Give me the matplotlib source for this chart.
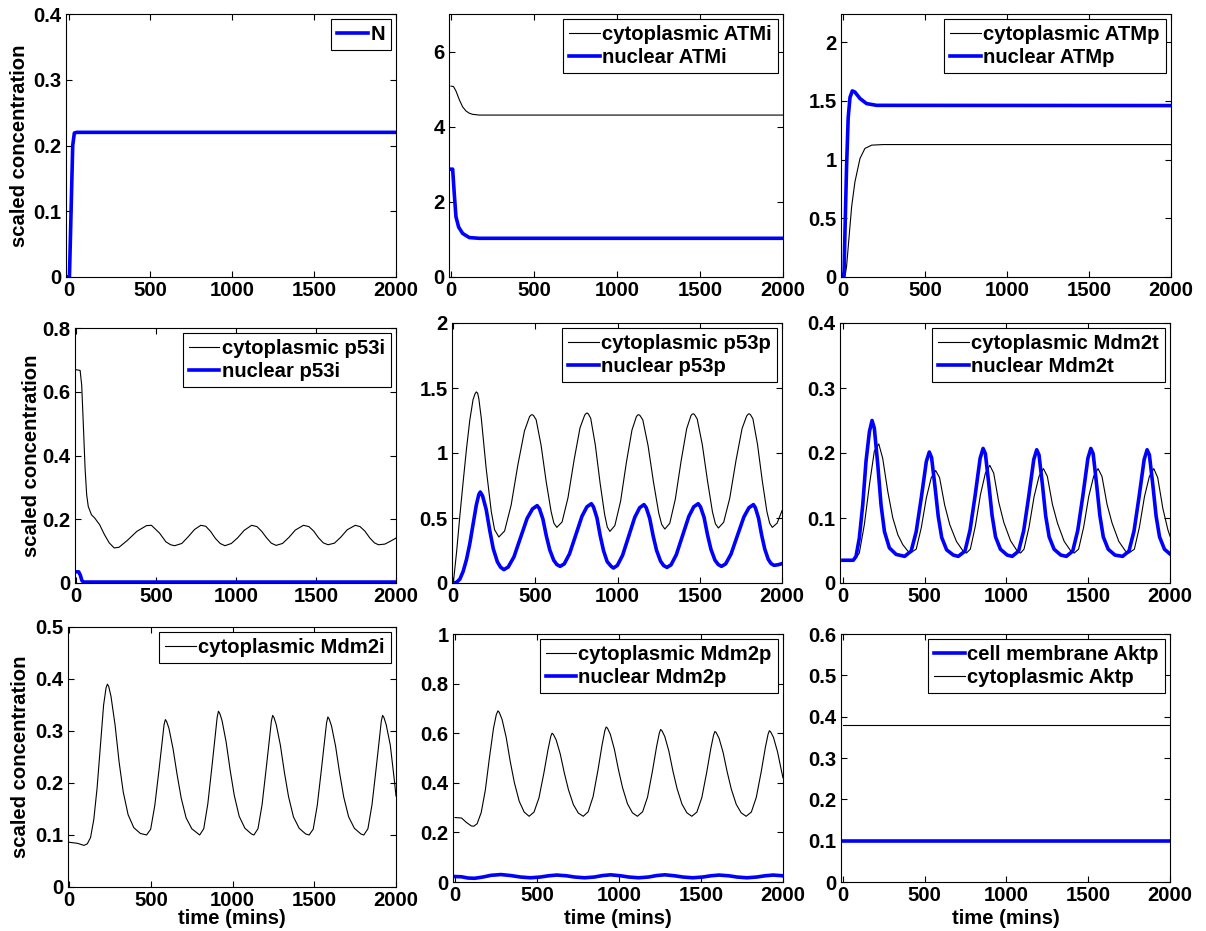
import numpy as np
import matplotlib
matplotlib.use("Agg")
import matplotlib.pyplot as plt
from matplotlib.ticker import FormatStrFormatter

plt.rcParams['font.family'] = ['Liberation Sans', 'DejaVu Sans']
plt.rcParams['font.weight'] = 'bold'
plt.rcParams['axes.labelweight'] = 'bold'

# ---- data (time in mins, scaled concentration) ----
t_N = [0, 5, 15, 25, 35, 50, 2000]
N = [0, 0, 0.10, 0.20, 0.219, 0.22, 0.22]

t_atmi_c = [0, 15, 30, 50, 70, 90, 110, 130, 170, 2000]
atmi_c = [5.08, 5.07, 4.95, 4.72, 4.53, 4.42, 4.36, 4.33, 4.31, 4.31]
t_atmi_n = [0, 10, 20, 30, 46, 70, 110, 170, 2000]
atmi_n = [2.87, 2.87, 2.2, 1.6, 1.33, 1.16, 1.05, 1.03, 1.03]

t_atmp_c = [0, 10, 20, 37, 51, 71, 102, 132, 173, 244, 2000]
atmp_c = [0, 0.0, 0.09, 0.37, 0.6, 0.81, 1.01, 1.095, 1.123, 1.128, 1.128]
t_atmp_n = [0, 5, 10, 20, 30, 41, 55, 71, 102, 142, 203, 2000]
atmp_n = [0, 0.05, 0.37, 0.94, 1.36, 1.53, 1.585, 1.575, 1.52, 1.477, 1.462, 1.46]

t_p53i_c = [0, 24, 34, 45, 55, 65, 75, 95, 115, 146, 176, 206, 237, 267, 318, 379, 439, 470,
            520, 561, 590, 615, 660, 700, 740, 779, 810, 840, 870, 900, 930, 970, 1010, 1050,
            1097, 1130, 1160, 1190, 1220, 1250, 1290, 1330, 1370, 1421, 1455, 1485, 1515, 1545,
            1575, 1615, 1655, 1695, 1745, 1775, 1805, 1835, 1865, 1890, 1930, 1965, 2000]
p53i_c = [0.669, 0.667, 0.62, 0.486, 0.36, 0.277, 0.24, 0.214, 0.204, 0.183, 0.152, 0.126, 0.110,
          0.112, 0.133, 0.162, 0.180, 0.181, 0.157, 0.129, 0.12, 0.117, 0.124, 0.145, 0.168,
          0.181, 0.178, 0.162, 0.140, 0.124, 0.117, 0.124, 0.142, 0.165, 0.181, 0.177, 0.162,
          0.142, 0.125, 0.118, 0.124, 0.143, 0.166, 0.181, 0.177, 0.163, 0.142, 0.126, 0.120,
          0.125, 0.144, 0.167, 0.181, 0.177, 0.163, 0.142, 0.126, 0.120, 0.122, 0.131, 0.141]
t_p53i_n = [0, 15, 25, 35, 45, 2000]
p53i_n = [0.035, 0.035, 0.025, 0.008, 0.003, 0.003]

t_p53p_c = [0, 20, 40, 60, 80, 100, 120, 132, 140, 148, 155, 170, 200, 231, 251, 277,
            312, 352, 393, 433, 464, 473, 480, 488, 504, 534, 565, 595, 612, 630,
            662, 698, 735, 771, 799, 807, 814, 822, 836, 864, 893, 921, 937, 953,
            983, 1018, 1053, 1087, 1114, 1121, 1128, 1136, 1153, 1185, 1218, 1250, 1268, 1287,
            1317, 1351, 1386, 1420, 1446, 1453, 1460, 1468, 1484, 1515, 1547, 1577, 1595, 1613,
            1645, 1682, 1720, 1757, 1785, 1793, 1800, 1808, 1823, 1851, 1880, 1908, 1925, 1941,
            1970, 2000]
p53p_c = [0, 0.24, 0.52, 0.78, 1.03, 1.25, 1.41, 1.455, 1.47, 1.46, 1.42, 1.27, 0.88, 0.55, 0.41, 0.354,
          0.40, 0.60, 0.91, 1.17, 1.28, 1.292, 1.295, 1.288, 1.256, 1.06, 0.78, 0.55, 0.46, 0.428,
          0.47, 0.657, 0.947, 1.194, 1.29, 1.303, 1.308, 1.3, 1.267, 1.062, 0.77, 0.525, 0.43, 0.397,
          0.442, 0.63, 0.927, 1.176, 1.28, 1.291, 1.295, 1.288, 1.255, 1.057, 0.776, 0.538, 0.45, 0.415,
          0.459, 0.646, 0.938, 1.187, 1.287, 1.298, 1.302, 1.295, 1.262, 1.065, 0.783, 0.546, 0.455, 0.423,
          0.467, 0.652, 0.942, 1.188, 1.285, 1.297, 1.302, 1.295, 1.263, 1.066, 0.786, 0.55, 0.46, 0.428,
          0.46, 0.556]
t_p53p_n = [0, 20, 40, 60, 80, 100, 120, 140, 155, 164, 178, 200, 222, 243, 268, 288, 308,
            334, 369, 409, 449, 482, 510, 524, 545, 566, 587, 611, 630, 650,
            675, 707, 745, 783, 813, 840, 853, 874, 894, 914, 936, 959, 974,
            998, 1030, 1067, 1104, 1134, 1160, 1174, 1195, 1216, 1237, 1261, 1280, 1300,
            1325, 1357, 1395, 1433, 1463, 1490, 1504, 1526, 1547, 1568, 1592, 1612, 1632,
            1657, 1690, 1729, 1768, 1799, 1826, 1838, 1857, 1876, 1895, 1916, 1933, 1951,
            1975, 2000]
p53p_n = [0, 0.005, 0.03, 0.09, 0.18, 0.30, 0.45, 0.6, 0.68, 0.70, 0.67, 0.566, 0.402, 0.264,
          0.163, 0.121, 0.103,
          0.123, 0.201, 0.349, 0.497, 0.570, 0.595, 0.572, 0.492, 0.362, 0.254, 0.175, 0.142, 0.128,
          0.147, 0.224, 0.369, 0.514, 0.586, 0.61, 0.585, 0.501, 0.363, 0.249, 0.165, 0.13, 0.115,
          0.135, 0.213, 0.359, 0.505, 0.579, 0.603, 0.579, 0.497, 0.362, 0.25, 0.168, 0.134, 0.12,
          0.14, 0.218, 0.365, 0.512, 0.586, 0.61, 0.586, 0.504, 0.369, 0.258, 0.176, 0.142, 0.128,
          0.147, 0.223, 0.366, 0.508, 0.579, 0.603, 0.579, 0.5, 0.37, 0.262, 0.183, 0.15, 0.136,
          0.14, 0.149]

t_mdm2t_c = [0, 70, 100, 131, 162, 192, 219, 243, 274, 305, 336, 366, 397, 417,
             448, 479, 510, 540, 567, 591, 622, 653, 694, 735, 755,
             779, 810, 841, 871, 898, 922, 953, 984, 1025, 1066, 1086,
             1107, 1138, 1169, 1199, 1226, 1250, 1281, 1312, 1353, 1394, 1414,
             1441, 1472, 1503, 1533, 1560, 1584, 1615, 1646, 1687, 1728, 1748,
             1782, 1813, 1844, 1874, 1901, 1925, 1956, 1987, 2000]
mdm2t_c = [0.035, 0.035, 0.046, 0.09, 0.151, 0.203, 0.214, 0.192, 0.141, 0.10, 0.074, 0.059, 0.049, 0.047,
           0.052, 0.085, 0.131, 0.162, 0.173, 0.162, 0.12, 0.09, 0.064, 0.049, 0.046,
           0.052, 0.088, 0.136, 0.169, 0.181, 0.169, 0.124, 0.093, 0.065, 0.049, 0.046,
           0.052, 0.086, 0.133, 0.164, 0.176, 0.164, 0.121, 0.092, 0.064, 0.049, 0.046,
           0.052, 0.086, 0.133, 0.164, 0.176, 0.164, 0.121, 0.092, 0.064, 0.049, 0.046,
           0.052, 0.086, 0.133, 0.164, 0.176, 0.162, 0.115, 0.082, 0.072]
t_mdm2t_n = [0, 63, 80, 100, 121, 141, 162, 178, 192, 213, 233, 254, 284, 325, 377,
             417, 448, 479, 510, 528, 542, 563, 583, 604, 634, 675, 705,
             746, 777, 808, 839, 857, 871, 892, 912, 933, 963, 1004, 1035,
             1074, 1105, 1136, 1167, 1185, 1199, 1220, 1240, 1261, 1291, 1332, 1366,
             1405, 1436, 1467, 1498, 1516, 1530, 1551, 1571, 1592, 1622, 1663, 1710,
             1749, 1780, 1811, 1842, 1860, 1874, 1895, 1915, 1936, 1966, 2000]
mdm2t_n = [0.035, 0.035, 0.041, 0.069, 0.12, 0.187, 0.233, 0.25, 0.238, 0.182, 0.12, 0.079, 0.054, 0.044, 0.041,
           0.049, 0.079, 0.131, 0.187, 0.2015, 0.193, 0.148, 0.102, 0.070, 0.051, 0.043, 0.041,
           0.049, 0.081, 0.134, 0.192, 0.207, 0.199, 0.152, 0.104, 0.071, 0.052, 0.043, 0.041,
           0.049, 0.080, 0.133, 0.190, 0.205, 0.197, 0.151, 0.103, 0.071, 0.052, 0.043, 0.041,
           0.049, 0.081, 0.134, 0.192, 0.207, 0.199, 0.152, 0.104, 0.071, 0.052, 0.043, 0.041,
           0.049, 0.080, 0.133, 0.190, 0.205, 0.197, 0.151, 0.103, 0.071, 0.052, 0.0446]

t_mdm2i = [0, 50, 90, 110, 130, 150, 170, 190, 210, 225, 233, 241,
           255, 280, 305, 330, 360, 395, 435, 473, 498, 523, 548, 568, 580, 588, 596,
           610, 635, 660, 685, 715, 750, 790, 798, 823, 848, 873, 893, 905, 913, 921,
           935, 960, 985, 1010, 1040, 1075, 1115, 1130, 1155, 1180, 1205, 1225, 1237, 1245, 1253,
           1267, 1292, 1317, 1342, 1372, 1407, 1447, 1468, 1493, 1518, 1543, 1563, 1575, 1583, 1591,
           1605, 1630, 1655, 1680, 1710, 1745, 1785, 1803, 1828, 1853, 1878, 1898, 1910, 1918, 1926,
           1940, 1965, 1990, 2000]
mdm2i = [0.086, 0.084, 0.080, 0.083, 0.095, 0.13, 0.19, 0.27, 0.35, 0.383, 0.39, 0.386,
         0.367, 0.312, 0.24, 0.183, 0.139, 0.114, 0.103, 0.10, 0.111, 0.156, 0.222, 0.278, 0.312, 0.322, 0.318,
         0.305, 0.266, 0.216, 0.171, 0.133, 0.112, 0.102, 0.10, 0.112, 0.160, 0.231, 0.29, 0.326, 0.338, 0.334,
         0.32, 0.279, 0.224, 0.176, 0.136, 0.113, 0.102, 0.10, 0.112, 0.158, 0.227, 0.284, 0.319, 0.33, 0.326,
         0.312, 0.273, 0.22, 0.174, 0.135, 0.113, 0.102, 0.10, 0.111, 0.157, 0.225, 0.282, 0.316, 0.327, 0.323,
         0.31, 0.271, 0.219, 0.173, 0.135, 0.113, 0.102, 0.10, 0.112, 0.158, 0.227, 0.284, 0.319, 0.33, 0.326,
         0.312, 0.273, 0.205, 0.175]

t_mdm2p_c = [0, 40, 70, 100, 115, 135, 160, 185, 210, 235, 252, 262,
             270, 287, 312, 337, 362, 392, 422, 452, 482, 512, 542, 567, 584, 592,
             600, 617, 642, 667, 692, 722, 752, 782, 812, 842, 872, 897, 914, 922,
             930, 947, 972, 997, 1022, 1052, 1082, 1112, 1144, 1174, 1204, 1229, 1246, 1254,
             1262, 1279, 1304, 1329, 1354, 1384, 1414, 1444, 1475, 1505, 1535, 1560, 1577, 1585,
             1593, 1610, 1635, 1660, 1685, 1715, 1745, 1775, 1807, 1837, 1867, 1892, 1909, 1917,
             1925, 1942, 1967, 1992, 2000]
mdm2p_c = [0.26, 0.258, 0.24, 0.226, 0.225, 0.235, 0.28, 0.37, 0.50, 0.62, 0.675, 0.69,
           0.684, 0.656, 0.584, 0.486, 0.401, 0.325, 0.282, 0.265, 0.282, 0.339, 0.439, 0.533, 0.587, 0.60,
           0.595, 0.573, 0.516, 0.439, 0.372, 0.312, 0.278, 0.265, 0.283, 0.344, 0.452, 0.553, 0.611, 0.625,
           0.62, 0.596, 0.535, 0.452, 0.38, 0.315, 0.279, 0.265, 0.283, 0.342, 0.447, 0.545, 0.601, 0.615,
           0.61, 0.587, 0.528, 0.447, 0.377, 0.314, 0.279, 0.265, 0.282, 0.34, 0.443, 0.539, 0.593, 0.607,
           0.602, 0.58, 0.522, 0.443, 0.374, 0.313, 0.279, 0.265, 0.282, 0.341, 0.444, 0.541, 0.596, 0.61,
           0.605, 0.583, 0.524, 0.444, 0.42]
t_mdm2p_n = [0, 40, 80, 120, 170, 220, 280, 340, 400, 460, 520, 570, 620, 680, 730, 790,
             850, 900, 950, 1010, 1060, 1120, 1180, 1230, 1280, 1340, 1390, 1450, 1510,
             1560, 1610, 1670, 1720, 1780, 1840, 1890, 1940, 2000]
mdm2p_n = [0.022, 0.021, 0.016, 0.015, 0.02, 0.027, 0.030, 0.026, 0.02, 0.017, 0.02, 0.025,
           0.028, 0.025, 0.02, 0.017, 0.02, 0.026, 0.029, 0.025, 0.02, 0.017, 0.02, 0.026,
           0.029, 0.025, 0.02, 0.017, 0.02, 0.025, 0.028, 0.025, 0.02, 0.017, 0.02, 0.025,
           0.028, 0.025]

t_akt = [0, 2000]
akt_mem = [0.1, 0.1]
akt_cyt = [0.38, 0.38]

# ---- figure ----
W, H = 1206, 931
FS = 14.6
fig = plt.figure(figsize=(W / 100, H / 100), dpi=100)
BLUE = (0, 0, 1)
thick = 2.6
thin = 0.8


def panel(l, r, t, b, ylim, yticks, xleft=-12):
    ax = fig.add_axes([l / W, 1 - b / H, (r - l) / W, (b - t) / H])
    ax.set_xlim(xleft, 2000)
    ax.set_ylim(*ylim)
    ax.set_xticks([0, 500, 1000, 1500, 2000])
    ax.set_yticks(yticks)
    ax.yaxis.set_major_formatter(FormatStrFormatter('%g'))
    ax.tick_params(direction='in', top=True, right=True, length=4, width=0.8,
                   labelsize=FS, pad=3)
    for s in ax.spines.values():
        s.set_linewidth(0.8)
    ax.box_px = (t, b)
    return ax


def leg(ax):
    lg = ax.legend(loc='upper right', fontsize=FS, fancybox=False, edgecolor='k',
                   framealpha=1, borderpad=0.3, labelspacing=0.2, handlelength=1.5,
                   handletextpad=0.12, borderaxespad=0.25)
    lg.get_frame().set_linewidth(0.8)


def ylab(ax, x):
    ax.set_ylabel('scaled concentration', fontsize=FS, va='center')
    ax.yaxis.set_label_coords(x, 0.5)


def xlab(ax):
    t, b = ax.box_px
    ax.set_xlabel('time (mins)', fontsize=FS, va='center')
    ax.xaxis.set_label_coords(0.5, -(918 - b) / (b - t))


ax = panel(66, 396, 14, 277, (0, 0.4), [0, 0.1, 0.2, 0.3, 0.4], -16)
ax.plot(t_N, N, color=BLUE, lw=thick, label='N')
leg(ax)
ylab(ax, -0.14)

ax = panel(449, 783, 14, 277, (0, 7), [0, 2, 4, 6])
ax.plot(t_atmi_c, atmi_c, color='k', lw=thin, label='cytoplasmic ATMi')
ax.plot(t_atmi_n, atmi_n, color=BLUE, lw=thick, label='nuclear ATMi')
leg(ax)

ax = panel(841, 1171, 14, 277, (0, 2.24), [0, 0.5, 1, 1.5, 2], -14)
ax.plot(t_atmp_c, atmp_c, color='k', lw=thin, label='cytoplasmic ATMp')
ax.plot(t_atmp_n, atmp_n, color=BLUE, lw=thick, label='nuclear ATMp')
leg(ax)

ax = panel(75, 396, 328, 583, (0, 0.8), [0, 0.2, 0.4, 0.6, 0.8], -8)
ax.plot(t_p53i_c, p53i_c, color='k', lw=thin, label='cytoplasmic p53i')
ax.plot(t_p53i_n, p53i_n, color=BLUE, lw=thick, label='nuclear p53i')
leg(ax)
ylab(ax, -0.135)

ax = panel(452, 782, 323, 583, (0, 2), [0, 0.5, 1, 1.5, 2], -8)
ax.plot(t_p53p_c, p53p_c, color='k', lw=thin, label='cytoplasmic p53p')
ax.plot(t_p53p_n, p53p_n, color=BLUE, lw=thick, label='nuclear p53p')
leg(ax)

ax = panel(840, 1170, 323, 583, (0, 0.4), [0, 0.1, 0.2, 0.3, 0.4], -18)
ax.plot(t_mdm2t_c, mdm2t_c, color='k', lw=thin, label='cytoplasmic Mdm2t')
ax.plot(t_mdm2t_n, mdm2t_n, color=BLUE, lw=thick, label='nuclear Mdm2t')
leg(ax)

ax = panel(68, 396, 627, 887, (0, 0.5), [0, 0.1, 0.2, 0.3, 0.4, 0.5], -8)
ax.plot(t_mdm2i, mdm2i, color='k', lw=thin, label='cytoplasmic Mdm2i')
leg(ax)
ylab(ax, -0.146)
xlab(ax)

ax = panel(453, 783, 634, 882, (0, 1), [0, 0.2, 0.4, 0.6, 0.8, 1], -12)
ax.plot(t_mdm2p_c, mdm2p_c, color='k', lw=thin, label='cytoplasmic Mdm2p')
ax.plot(t_mdm2p_n, mdm2p_n, color=BLUE, lw=thick, label='nuclear Mdm2p')
leg(ax)
xlab(ax)

ax = panel(841, 1170, 634, 882, (0, 0.6), [0, 0.1, 0.2, 0.3, 0.4, 0.5, 0.6], -12)
ax.plot(t_akt, akt_mem, color=BLUE, lw=thick, label='cell membrane Aktp')
ax.plot(t_akt, akt_cyt, color='k', lw=thin, label='cytoplasmic Aktp')
leg(ax)
xlab(ax)

fig.savefig('out.png', dpi=100, facecolor='white')
